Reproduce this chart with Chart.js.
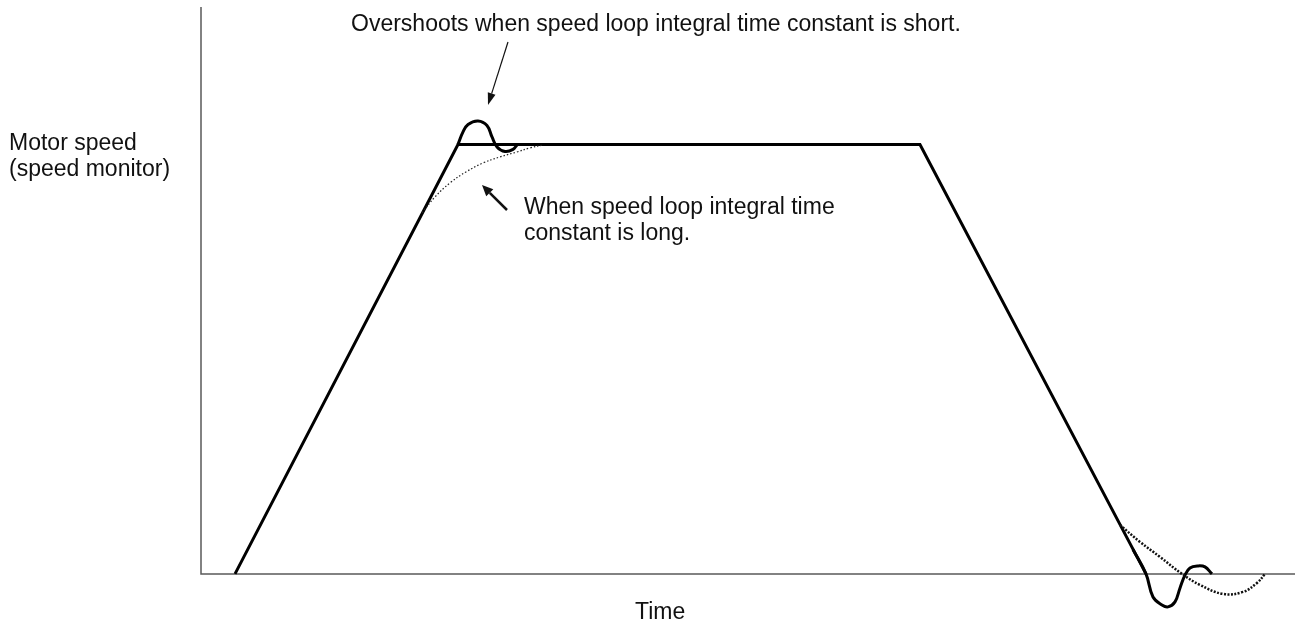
<!DOCTYPE html>
<html>
<head>
<meta charset="utf-8">
<title>Motor speed response</title>
<script src="https://cdn.jsdelivr.net/npm/chart.js@4/dist/chart.umd.min.js"></script>
<style>
  html, body { margin: 0; padding: 0; background: #fff; }
  #wrap { width: 1295px; height: 624px; }
</style>
</head>
<body>
<div id="wrap"><canvas id="speedChart" width="1295" height="624"></canvas></div>
<script>
// Time axis runs 0..100, speed in % of the set speed (flat part = 100)

// accel ramp, constant speed, decel ramp
const profileTime  = [3.11, 23.49, 65.72, 86.38];
const profileSpeed = [0, 100, 100, 0];

// overshoot at the top of the ramp (short integral time constant)
const overTime  = [23.49, 23.95, 24.41, 25.32, 26.14, 26.60, 27.06, 27.79, 28.52, 28.88];
const overSpeed = [100, 102.91, 104.66, 105.47, 104.42, 101.75, 99.42, 98.37, 98.84, 99.88];

// slow rise into the set speed (long integral time constant)
const slowTime  = [20.20, 21.39, 22.76, 24.22, 25.78, 27.33, 28.88, 30.07, 31.26];
const slowSpeed = [84.05, 87.78, 91.04, 93.60, 95.69, 97.09, 98.25, 99.19, 99.88];

// undershoot after stopping (short integral time constant)
const stopOverTime  = [85.19, 86.38, 87.02, 87.84, 88.39, 89.03, 89.49, 89.95, 90.40, 91.13, 91.77, 92.41];
const stopOverSpeed = [5.70, 0, -5.36, -7.22, -7.68, -6.52, -3.26, -0.23, 1.40, 1.86, 1.63, 0];

// slow settling after stopping (long integral time constant)
const stopSlowTime  = [84.00, 85.83, 87.66, 89.67, 91.32, 93.42, 95.25, 96.53, 97.26];
const stopSlowSpeed = [11.41, 7.45, 3.96, 0, -2.56, -4.66, -4.19, -2.10, 0];

function pts(xs, ys) {
  return xs.map((x, i) => ({ x: x, y: ys[i] }));
}

const FONT = '23px "Liberation Sans", Arial, sans-serif';

// axis lines drawn from the origin (speed 0)
const axesPlugin = {
  id: 'axes',
  beforeDatasetsDraw(chart) {
    const ctx = chart.ctx;
    const area = chart.chartArea;
    const y0 = chart.scales.y.getPixelForValue(0);
    const x0 = chart.scales.x.getPixelForValue(0);
    ctx.save();
    ctx.strokeStyle = '#5a5a5a';
    ctx.lineWidth = 1.5;
    ctx.beginPath();
    ctx.moveTo(x0, area.top);
    ctx.lineTo(x0, y0);
    ctx.lineTo(chart.width, y0);
    ctx.stroke();
    ctx.restore();
  }
};

function arrow(ctx, x1, y1, x2, y2, width, headLen, headW) {
  const ang = Math.atan2(y2 - y1, x2 - x1);
  const bx = x2 - headLen * Math.cos(ang);
  const by = y2 - headLen * Math.sin(ang);
  ctx.lineWidth = width;
  ctx.beginPath();
  ctx.moveTo(x1, y1);
  ctx.lineTo(bx, by);
  ctx.stroke();
  ctx.beginPath();
  ctx.moveTo(x2, y2);
  ctx.lineTo(bx + headW * Math.sin(ang), by - headW * Math.cos(ang));
  ctx.lineTo(bx - headW * Math.sin(ang), by + headW * Math.cos(ang));
  ctx.closePath();
  ctx.fill();
}

// labels and callout arrows
const notesPlugin = {
  id: 'notes',
  afterDraw(chart) {
    const ctx = chart.ctx;
    ctx.save();
    ctx.fillStyle = '#111';
    ctx.strokeStyle = '#111';
    ctx.font = FONT;
    ctx.textBaseline = 'alphabetic';
    ctx.textAlign = 'left';
    ctx.fillText('Motor speed', 9, 150);
    ctx.fillText('(speed monitor)', 9, 176);
    ctx.fillText('Overshoots when speed loop integral time constant is short.', 351, 31);
    ctx.fillText('When speed loop integral time', 524, 214);
    ctx.fillText('constant is long.', 524, 240);
    ctx.fillText('Time', 635, 619);

    arrow(ctx, 508, 42, 488, 105, 1.2, 12, 4);
    arrow(ctx, 507, 210, 482, 185, 2.5, 11, 5);
    ctx.restore();
  }
};

new Chart(document.getElementById('speedChart'), {
  type: 'line',
  data: {
    datasets: [
      {
        data: pts(slowTime, slowSpeed),
        borderColor: '#222',
        borderWidth: 1.2,
        borderDash: [1.5, 2],
        tension: 0.4
      },
      {
        data: pts(stopSlowTime, stopSlowSpeed),
        borderColor: '#111',
        borderWidth: 2.5,
        borderDash: [2, 1.5],
        tension: 0.4
      },
      {
        data: pts(profileTime, profileSpeed),
        borderColor: '#000',
        borderWidth: 3,
        tension: 0
      },
      {
        data: pts(overTime, overSpeed),
        borderColor: '#000',
        borderWidth: 3,
        tension: 0.4
      },
      {
        data: pts(stopOverTime, stopOverSpeed),
        borderColor: '#000',
        borderWidth: 3,
        tension: 0.4
      }
    ]
  },
  options: {
    responsive: false,
    animation: false,
    devicePixelRatio: 1,
    layout: { padding: { left: 201, right: 0, top: 7, bottom: 14 } },
    elements: { point: { radius: 0 }, line: { fill: false, borderJoinStyle: 'miter' } },
    datasets: { line: { clip: false } },
    plugins: { legend: { display: false }, tooltip: { enabled: false } },
    scales: {
      x: { type: 'linear', min: 0, max: 100, display: false },
      y: { min: -8.4, max: 132, display: false }
    }
  },
  plugins: [axesPlugin, notesPlugin]
});
</script>
</body>
</html>
